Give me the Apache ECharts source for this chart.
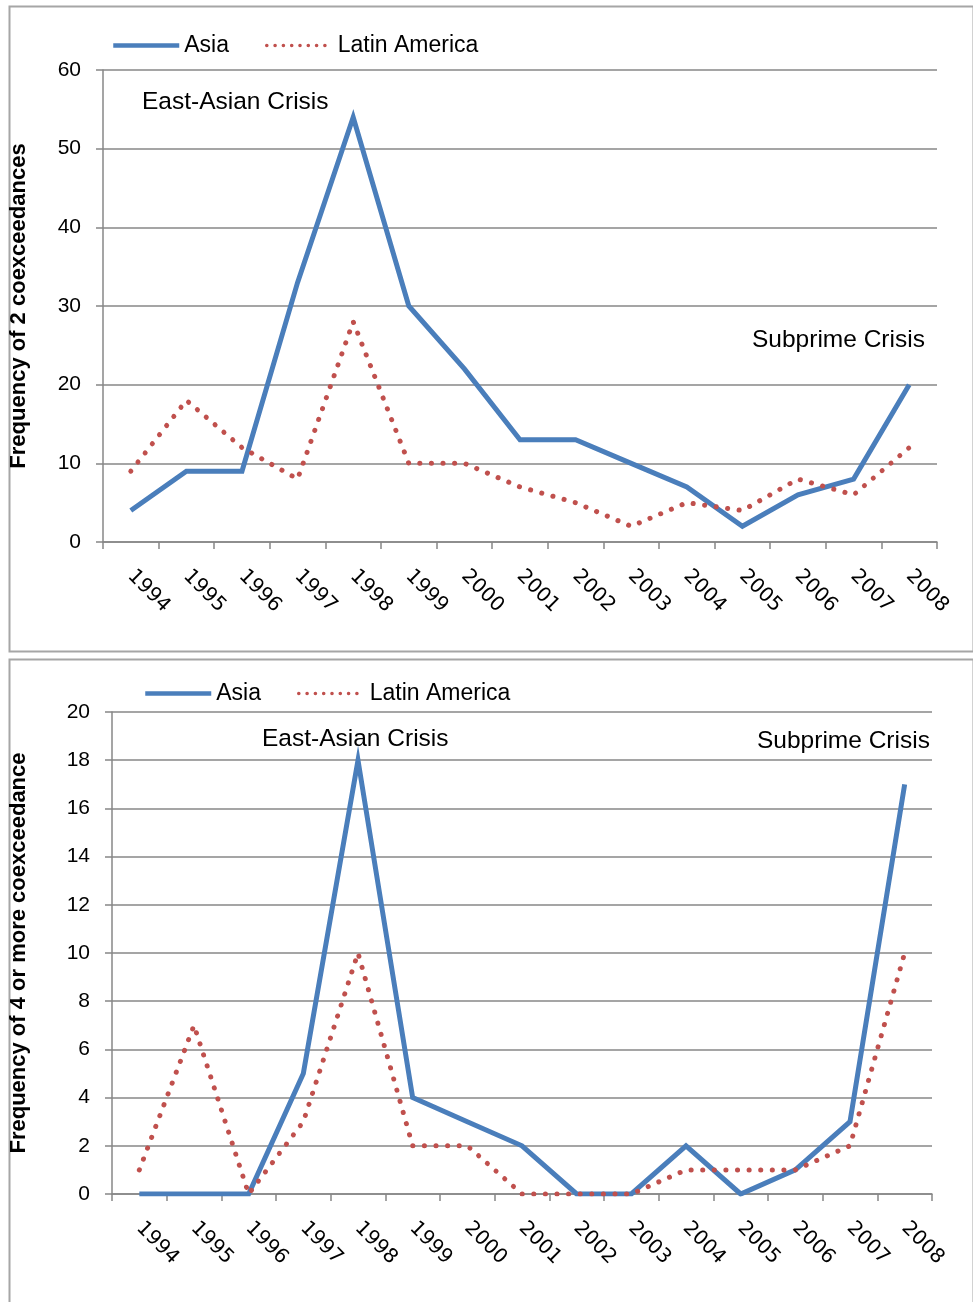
<!DOCTYPE html>
<html>
<head>
<meta charset="utf-8">
<script src="https://cdn.jsdelivr.net/npm/echarts@6/dist/echarts.min.js"></script>
<style>
  html, body { margin: 0; padding: 0; background: #fff; }
  #chart { width: 973px; height: 1302px; }
</style>
</head>
<body>
<div id="chart"></div>
<script>
const years = ['1994', '1995', '1996', '1997', '1998', '1999', '2000', '2001', '2002', '2003', '2004', '2005', '2006', '2007', '2008']
// top panel: frequency of 2 coexceedances
const asia2 = [4, 9, 9, 33, 54, 30, 22, 13, 13, 10, 7, 2, 6, 8, 20]
const latin2 = [9, 18, 12, 8, 28, 10, 10, 7, 5, 2, 5, 4, 8, 6, 12]
// bottom panel: frequency of 4 or more coexceedance
const asia4 = [0, 0, 0, 5, 18, 4, 3, 2, 0, 0, 2, 0, 1, 3, 17]
const latin4 = [1, 7, 0, 3, 10, 2, 2, 0, 0, 0, 1, 1, 1, 2, 10]

const font = "'Liberation Sans', 'DejaVu Sans', sans-serif"
const gridColor = '#878787'
const blue = '#4a7ebb'
const red = '#c0504d'

function xAxisFor (gridIndex) {
  return {
    type: 'category',
    gridIndex: gridIndex,
    data: years,
    boundaryGap: true,
    axisLine: {lineStyle: {color: gridColor, width: 1.5}},
    axisTick: {show: true, length: 7, lineStyle: {color: gridColor, width: 1.5}},
    axisLabel: {rotate: -45, margin: 31, color: '#000', fontSize: 20, fontFamily: "'DejaVu Sans', sans-serif"}
  }
}

function yAxisFor (gridIndex, max, interval, name, nameGap) {
  return {
    type: 'value',
    gridIndex: gridIndex,
    min: 0,
    max: max,
    interval: interval,
    name: name,
    nameLocation: 'middle',
    nameGap: nameGap,
    nameTextStyle: {fontSize: 22, fontWeight: 'bold', color: '#000', fontFamily: font},
    axisLine: {show: true, lineStyle: {color: gridColor, width: 1.5}},
    axisTick: {show: true, length: 7, lineStyle: {color: gridColor, width: 1.5}},
    axisLabel: {margin: 22, color: '#000', fontSize: 21, fontFamily: font},
    splitLine: {lineStyle: {color: gridColor, width: 1.5}}
  }
}

function asiaSeries (idx, data) {
  return {
    name: 'Asia',
    type: 'line',
    xAxisIndex: idx,
    yAxisIndex: idx,
    symbol: 'none',
    data: data,
    lineStyle: {color: blue, width: 5, join: 'miter'},
    itemStyle: {color: blue}
  }
}

function latinSeries (idx, data) {
  return {
    name: 'Latin America',
    type: 'line',
    xAxisIndex: idx,
    yAxisIndex: idx,
    symbol: 'none',
    data: data,
    lineStyle: {color: red, width: 5, type: [0.1, 11.5], cap: 'round'},
    itemStyle: {color: red}
  }
}

function crisisText (x, y, text) {
  return {
    type: 'text',
    left: x,
    top: y,
    style: {text: text, fontSize: 24.5, fontFamily: font, fill: '#000'}
  }
}

const legendBase = {
  itemWidth: 66,
  itemHeight: 14,
  itemGap: 36,
  itemStyle: {opacity: 0},
  textStyle: {fontSize: 23, fontFamily: font, color: '#000'},
  data: [
    {name: 'Asia', lineStyle: {color: blue, width: 4.5, cap: 'butt'}},
    {name: 'Latin America', lineStyle: {color: red, width: 3.5, type: [0.1, 8.2], cap: 'round'}}
  ]
}

const option = {
  animation: false,
  backgroundColor: '#fff',
  legend: [
    Object.assign({}, legendBase, {left: 106, top: 29}),
    Object.assign({}, legendBase, {left: 138, top: 677})
  ],
  grid: [
    {left: 103, top: 70, width: 834, height: 472},
    {left: 112, top: 712, width: 820, height: 482}
  ],
  xAxis: [xAxisFor(0), xAxisFor(1)],
  yAxis: [
    yAxisFor(0, 60, 10, 'Frequency of 2 coexceedances', 73),
    yAxisFor(1, 20, 2, 'Frequency of 4 or more coexceedance', 82)
  ],
  series: [
    asiaSeries(0, asia2),
    latinSeries(0, latin2),
    asiaSeries(1, asia4),
    latinSeries(1, latin4)
  ],
  graphic: [
    {type: 'rect', left: 7, top: 4, shape: {width: 964, height: 645}, style: {fill: 'none', stroke: '#a6a6a6', lineWidth: 2}},
    {type: 'rect', left: 7, top: 657, shape: {width: 964, height: 650}, style: {fill: 'none', stroke: '#a6a6a6', lineWidth: 2}},
    crisisText(142, 90, 'East-Asian Crisis'),
    crisisText(752, 328, 'Subprime Crisis'),
    crisisText(262, 727, 'East-Asian Crisis'),
    crisisText(757, 729, 'Subprime Crisis')
  ]
}

const chart = echarts.init(document.getElementById('chart'))
chart.setOption(option, true)
</script>
</body>
</html>
